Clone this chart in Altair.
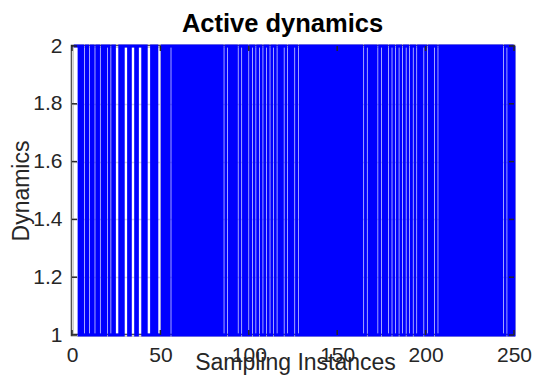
import altair as alt
import pandas as pd

# Active dynamics value (1 or 2) at each sampling instance 1..250
dyn_001_050 = [2, 2, 2, 1, 2, 1, 1, 2, 1, 1,
               2, 1, 1, 2, 1, 1, 2, 1, 2, 2,
               1, 1, 2, 1, 1, 1, 2, 1, 2, 2,
               2, 1, 2, 2, 2, 1, 2, 2, 2, 1,
               2, 1, 1, 1, 2, 1, 2, 1, 1, 1]
dyn_051_100 = [2, 1, 2, 1, 2, 2, 1, 2, 1, 2,
               1, 2, 1, 2, 1, 2, 1, 2, 1, 2,
               1, 2, 1, 2, 1, 2, 1, 2, 1, 2,
               1, 2, 1, 2, 1, 1, 2, 2, 1, 2,
               1, 2, 1, 1, 2, 2, 1, 2, 1, 1]
dyn_101_150 = [2, 2, 1, 1, 2, 2, 1, 1, 2, 2,
               1, 1, 2, 2, 1, 1, 2, 1, 2, 2,
               1, 1, 2, 1, 2, 2, 1, 1, 2, 1,
               2, 1, 2, 1, 2, 1, 2, 1, 2, 1,
               2, 1, 2, 1, 2, 1, 2, 1, 2, 1]
dyn_151_200 = [2, 1, 2, 1, 2, 1, 2, 1, 2, 1,
               2, 1, 2, 1, 1, 2, 2, 1, 2, 1,
               2, 1, 1, 2, 2, 1, 2, 1, 1, 2,
               2, 1, 1, 2, 2, 1, 1, 2, 2, 1,
               1, 2, 2, 1, 1, 2, 1, 2, 2, 1]
dyn_201_250 = [1, 2, 1, 2, 2, 1, 1, 2, 1, 2,
               1, 2, 1, 2, 1, 2, 1, 2, 1, 2,
               1, 2, 1, 2, 1, 2, 1, 2, 1, 2,
               1, 2, 1, 2, 1, 2, 1, 2, 1, 2,
               1, 2, 1, 1, 2, 2, 1, 2, 1, 2]

x_ticks = [0, 50, 100, 150, 200, 250]
y_ticks = [1, 1.2, 1.4, 1.6, 1.8, 2]

values = dyn_001_050 + dyn_051_100 + dyn_101_150 + dyn_151_200 + dyn_201_250
df = pd.DataFrame({"t": list(range(1, len(values) + 1)), "v": values})
xt = pd.DataFrame({"xt": x_ticks})
yt = pd.DataFrame({"yt": y_ticks})

W, H = 442, 289
FONT = "Liberation Sans, Arial, Helvetica, sans-serif"
AX = "#262626"

xscale = alt.Scale(domain=[0, 250], nice=False, zero=False)
yscale = alt.Scale(domain=[1, 2], nice=False, zero=False)

line = alt.Chart(df).mark_line(
    interpolate="step-after", color="#0000ff", strokeWidth=2.9
).encode(
    x=alt.X("t:Q", scale=xscale, axis=alt.Axis(
        values=x_ticks, title="Sampling Instances", grid=True,
        gridColor="#d9d9d9", gridWidth=1.5, domain=False, ticks=False,
        tickSize=0, labelPadding=9, labelFontSize=21, labelColor=AX,
        labelFlush=False, labelOverlap=False,
        labelFont=FONT, titleFont=FONT, titleFontSize=23,
        titleFontWeight="normal", titleColor=AX, titleX=223, titleY=34.5,
        titleBaseline="alphabetic", titleAlign="center")),
    y=alt.Y("v:Q", scale=yscale, axis=alt.Axis(
        values=y_ticks, format="~g", title="Dynamics", grid=True,
        gridColor="#d9d9d9", gridWidth=1.5, domain=False, ticks=False,
        tickSize=0, labelPadding=10, labelFontSize=21, labelColor=AX,
        labelFlush=False, labelOverlap=False,
        labelFont=FONT, titleFont=FONT, titleFontSize=23,
        titleFontWeight="normal", titleColor=AX, titleX=-43.5, titleY=144.5,
        titleAngle=270, titleBaseline="alphabetic", titleAlign="center")),
)

tick_style = dict(color=AX, strokeWidth=1.5)
bottom_ticks = alt.Chart(xt).mark_rule(**tick_style).encode(
    x=alt.X("xt:Q", scale=xscale), y=alt.value(H), y2=alt.value(H - 5))
top_ticks = alt.Chart(xt).mark_rule(**tick_style).encode(
    x=alt.X("xt:Q", scale=xscale), y=alt.value(0), y2=alt.value(5))
left_ticks = alt.Chart(yt).mark_rule(**tick_style).encode(
    y=alt.Y("yt:Q", scale=yscale), x=alt.value(0), x2=alt.value(5))
right_ticks = alt.Chart(yt).mark_rule(**tick_style).encode(
    y=alt.Y("yt:Q", scale=yscale), x=alt.value(W - 5), x2=alt.value(W))

chart = alt.layer(line, bottom_ticks, top_ticks, left_ticks, right_ticks).properties(
    width=W, height=H,
    background="white",
    title=alt.TitleParams("Active dynamics", font=FONT, fontSize=25.5,
                          fontWeight="bold", color="#000000", anchor="middle",
                          baseline="alphabetic", offset=14, dx=-10.5, dy=36),
    autosize=alt.AutoSizeParams(type="none"),
    padding={"left": 72, "top": 46, "right": 22, "bottom": 50},
).configure_view(stroke=AX, strokeWidth=2.5)

chart.save("out.html", embed_options={"renderer": "svg", "actions": False})
